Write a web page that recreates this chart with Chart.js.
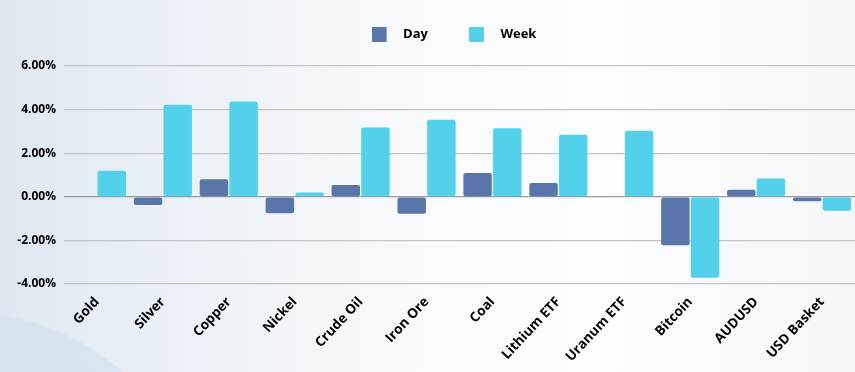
<!DOCTYPE html>
<html><head><meta charset="utf-8">
<script src="https://cdn.jsdelivr.net/npm/chart.js@4"></script>
<style>
html,body{margin:0;padding:0;width:855px;height:372px;overflow:hidden;}
body{background:
  radial-gradient(circle 250px at -40px 560px, rgba(208,223,237,0.9) 0%, rgba(214,228,240,0.85) 99%, rgba(220,230,240,0) 100%),
  linear-gradient(to right, #dfe8f1 0%, #ebf1f6 22%, #f7f9fb 45%, #fcfdfd 70%, #f4f6f9 100%);}
#wrap{position:absolute;left:0;top:0;width:855px;height:372px;}
</style></head>
<body><div id="wrap"><canvas id="c" width="855" height="372"></canvas></div>
<script>
const categories = ["Gold","Silver","Copper","Nickel","Crude Oil","Iron Ore","Coal","Lithium ETF","Uranum ETF","Bitcoin","AUDUSD","USD Basket"];
const dayValues  = [0, -0.38, 0.81, -0.76, 0.54, -0.78, 1.09, 0.63, 0, -2.22, 0.32, -0.20];
const weekValues = [1.20, 4.22, 4.37, 0.20, 3.18, 3.53, 3.15, 2.85, 3.03, -3.71, 0.84, -0.64];
const yTicks = [-4, -2, 0, 2, 4, 6];
const seriesColors = ['#5a75aa', '#53d0ea'];

const FONT = "'Open Sans', sans-serif";

// legend marker: 15px colored square followed by transparent space (gap before the text)
function marker(color) {
  const c = document.createElement('canvas');
  c.width = 25; c.height = 15;
  const g = c.getContext('2d');
  g.fillStyle = color; g.fillRect(0, 0, 15, 15);
  return c;
}
const markers = seriesColors.map(marker);

const legendShift = {
  id: 'legendShift',
  afterLayout(chart) {
    const L = chart.legend;
    const dx = 25, dy = -15;
    L.left += dx; L.right += dx; L.top += dy; L.bottom += dy;
  }
};

new Chart(document.getElementById('c'), {
  type: 'bar',
  data: {
    labels: categories,
    datasets: [
      {label: 'Day', data: dayValues, backgroundColor: seriesColors[0], borderRadius: 2, borderSkipped: false},
      {label: 'Week', data: weekValues, backgroundColor: seriesColors[1], borderRadius: 2, borderSkipped: false}
    ]
  },
  plugins: [legendShift],
  options: {
    responsive: false,
    animation: false,
    layout: {padding: {left: 0, right: -3, top: 2, bottom: 0}},
    datasets: {bar: {categoryPercentage: 0.9, barPercentage: 0.96}},
    plugins: {
      tooltip: {enabled: false},
      legend: {
        position: 'top',
        labels: {
          usePointStyle: true, pointStyleWidth: 25, boxHeight: 15,
          padding: 41, color: '#000',
          font: {family: FONT, size: 13, weight: 'bold'},
          generateLabels(chart) {
            const items = Chart.defaults.plugins.legend.labels.generateLabels(chart);
            items.forEach((it, i) => { it.pointStyle = markers[i]; });
            return items;
          }
        }
      }
    },
    scales: {
      x: {
        grid: {display: false},
        border: {display: false},
        ticks: {color: '#000', font: {family: FONT, size: 13.5, weight: 'bold'}, minRotation: 47, maxRotation: 47, padding: 2},
        afterFit: s => { s.height = 88; }
      },
      y: {
        min: yTicks[0], max: yTicks[yTicks.length-1],
        afterBuildTicks: s => { s.ticks = yTicks.map(v => ({value: v})); },
        border: {display: false},
        grid: {color: ctx => ctx.tick && ctx.tick.value === 0 ? '#9a9a9a' : '#c4c4c4', lineWidth: 1.2, drawTicks: false},
        ticks: {color: '#000', padding: 8, font: {family: FONT, size: 12, weight: 'bold'},
          callback: v => v.toFixed(2) + '%'},
        afterFit: s => { s.width = 64; }
      }
    }
  }
});
</script></body></html>
